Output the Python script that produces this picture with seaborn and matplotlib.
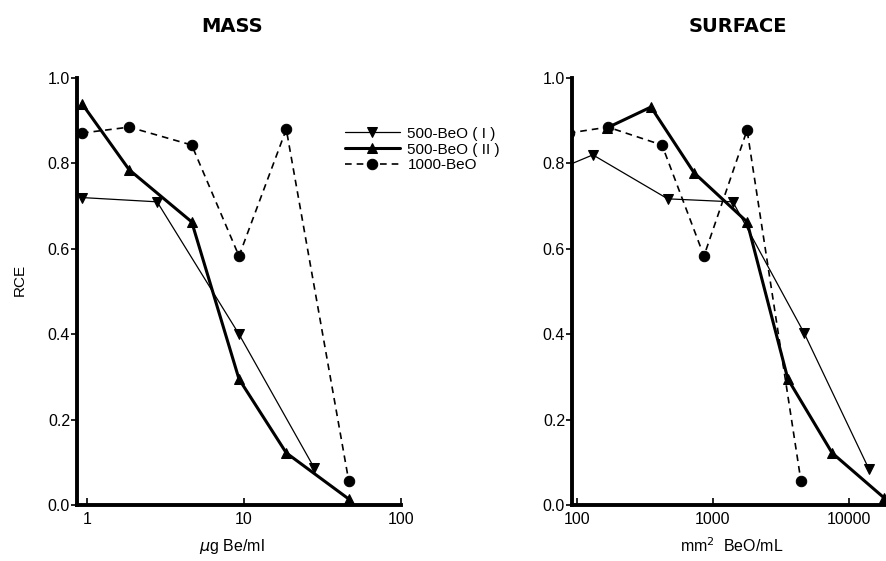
import numpy as np
import pandas as pd
import matplotlib
matplotlib.use("Agg")
import matplotlib.pyplot as plt
import seaborn as sns

# %% data
mass_I_x = [0.93, 2.8, 9.3, 28]
mass_I_y = [0.72, 0.71, 0.40, 0.087]
mass_II_x = [0.93, 1.86, 4.65, 9.3, 18.6, 46.5]
mass_II_y = [0.94, 0.785, 0.663, 0.295, 0.122, 0.014]
mass_1000_x = [0.93, 1.86, 4.65, 9.3, 18.6, 46.5]
mass_1000_y = [0.871, 0.885, 0.843, 0.583, 0.880, 0.056]

surf_I_x = [85, 131, 465, 1400, 4670, 14000]
surf_I_y = [0.795, 0.82, 0.717, 0.71, 0.403, 0.084]
surf_II_x = [166, 350, 726, 1780, 3550, 7500, 18200]
surf_II_y = [0.883, 0.932, 0.778, 0.663, 0.295, 0.122, 0.016]
surf_1000_x = [87, 169, 422, 858, 1780, 4430]
surf_1000_y = [0.871, 0.885, 0.843, 0.583, 0.878, 0.056]

labels = ["500-BeO ( I )", "500-BeO ( II )", "1000-BeO"]

# %%
sns.set_style("ticks")
plt.rcParams["font.family"] = ["Liberation Sans", "DejaVu Sans"]
plt.rcParams["text.color"] = "k"
plt.rcParams["axes.edgecolor"] = "k"
plt.rcParams["xtick.color"] = "k"
plt.rcParams["ytick.color"] = "k"

styles = [
    dict(linewidth=0.9, marker="v", markersize=6.5, linestyle="-"),
    dict(linewidth=2.2, marker="^", markersize=6.5, linestyle="-"),
    dict(linewidth=1.2, marker="o", markersize=7.5, linestyle=(0, (4, 3))),
]

fig = plt.figure(figsize=(8.87, 5.61), dpi=100)
ax_m = fig.add_axes([77 / 887, 56 / 561, 324 / 887, 427 / 561])
ax_s = fig.add_axes([572 / 887, 56 / 561, 315 / 887, 427 / 561])

mass_sets = [(mass_I_x, mass_I_y), (mass_II_x, mass_II_y), (mass_1000_x, mass_1000_y)]
surf_sets = [(surf_I_x, surf_I_y), (surf_II_x, surf_II_y), (surf_1000_x, surf_1000_y)]

for ax, sets in [(ax_m, mass_sets), (ax_s, surf_sets)]:
    for (x, y), lab, st in zip(sets, labels, styles):
        df = pd.DataFrame({"x": x, "y": y})
        sns.lineplot(
            data=df,
            x="x",
            y="y",
            ax=ax,
            label=lab,
            color="k",
            linewidth=st["linewidth"],
            marker=st["marker"],
            markersize=st["markersize"],
            linestyle=st["linestyle"],
            markeredgecolor="k",
            markerfacecolor="k",
            legend=False,
        )
    ax.set_xscale("log")
    ax.set_ylim(0, 1.0)
    ax.set_yticks([0.0, 0.2, 0.4, 0.6, 0.8, 1.0])
    ax.set_yticklabels(["0.0", "0.2", "0.4", "0.6", "0.8", "1.0"])
    ax.xaxis.set_minor_locator(matplotlib.ticker.NullLocator())
    ax.spines["top"].set_visible(False)
    ax.spines["right"].set_visible(False)
    for s in ["left", "bottom"]:
        ax.spines[s].set_linewidth(2.8)
    ax.tick_params(axis="x", direction="in", length=5, width=1.2, labelsize=11.5, pad=5)
    ax.tick_params(axis="y", direction="out", length=4, width=1.2, labelsize=11.5, pad=1)
    ax.set_xlabel("")
    ax.set_ylabel("")
    ax.set_facecolor("none")

ax_m.set_xlim(0.865, 100)
ax_m.set_xticks([1, 10, 100])
ax_m.set_xticklabels(["1", "10", "100"])
ax_s.set_xlim(92, 19000)
ax_s.set_xticks([100, 1000, 10000])
ax_s.set_xticklabels(["100", "1000", "10000"])

# legend placed between the panels
handles = ax_m.get_lines()[:3]
fig.legend(
    handles,
    labels,
    loc="upper left",
    bbox_to_anchor=(331 / 887, 1 - 113 / 561),
    frameon=False,
    fontsize=11,
    handlelength=3.6,
    handletextpad=0.5,
    labelspacing=0.12,
)

title_font = ["Liberation Sans Narrow", "DejaVu Sans"]
fig.text(232 / 887, 1 - 26 / 561, "MASS", ha="center", va="center",
         fontsize=14, fontweight="bold", family=title_font)
fig.text(738 / 887, 1 - 26 / 561, "SURFACE", ha="center", va="center",
         fontsize=14, fontweight="bold", family=title_font)
fig.text(20 / 887, 1 - 280 / 561, "RCE", rotation=90, ha="center", va="center", fontsize=11)
fig.text(232 / 887, 1 - 546 / 561, r"$\mu$g Be/ml", ha="center", va="center", fontsize=11.5)
fig.text(732 / 887, 1 - 546 / 561, "mm$^2$  BeO/mL", ha="center", va="center", fontsize=11.5)

plt.savefig("out.png", dpi=100)
